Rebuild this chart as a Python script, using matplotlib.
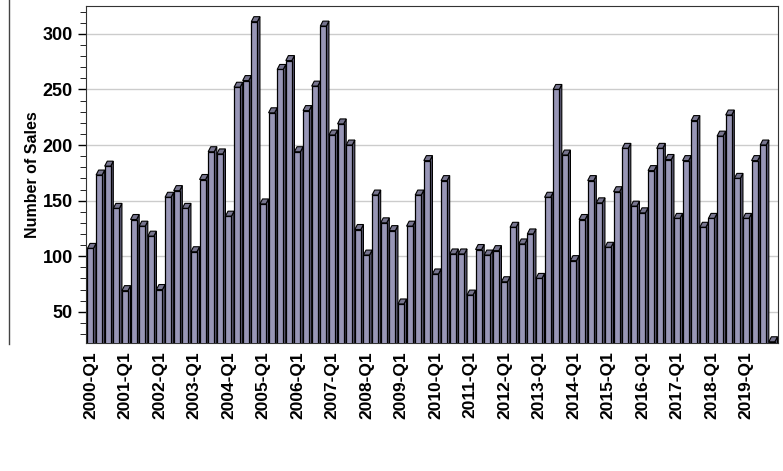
import numpy as np
import matplotlib.pyplot as plt
from matplotlib.patches import Polygon

# quarterly sales 2000-Q1 .. 2019-Q4
sales = [107, 173, 181, 143,  69, 133, 127, 118,  70, 153, 159, 143,
         104, 169, 194, 192, 136, 252, 258, 311, 147, 229, 268, 276,
         194, 231, 253, 307, 209, 219, 200, 124, 101, 155, 130, 123,
          57, 127, 155, 186,  84, 168, 102, 102,  65, 106, 101, 105,
          77, 126, 111, 120,  80, 153, 250, 191,  96, 133, 168, 148,
         108, 158, 197, 145, 139, 177, 197, 187, 134, 186, 222, 126,
         134, 208, 227, 170, 134, 186, 200,  23]
years = list(range(2000, 2020))
tick_labels = ['%d-Q1' % y for y in years]

front = '#9896b6'
side = '#5f5d78'
top = '#77758f'

plt.rcParams['font.family'] = ['Liberation Sans', 'DejaVu Sans']
fig = plt.figure(figsize=(7.83, 4.71), dpi=100)
ax = fig.add_axes([0.110, 0.272, 0.884, 0.715])
ax.set_ylim(22, 325)
ax.set_xlim(-0.5, len(sales) - 0.25)

w = 0.7
dx, dy = 0.3, 4.5
x = np.arange(len(sales))
for xi, v in zip(x, sales):
    l, r = xi - w / 2, xi + w / 2
    ax.add_patch(Polygon([(r, 0), (r + dx, dy), (r + dx, v + dy), (r, v)],
                         closed=True, fc=side, ec='black', lw=0.8, zorder=2))
    ax.add_patch(Polygon([(l, v), (l + dx, v + dy), (r + dx, v + dy), (r, v)],
                         closed=True, fc=top, ec='black', lw=0.8, zorder=2))
ax.bar(x, sales, width=w, color=front, edgecolor='black', linewidth=0.9, zorder=3)

ax.set_yticks([50, 100, 150, 200, 250, 300])
ax.set_yticks(range(30, 325, 10), minor=True)
ax.yaxis.grid(True, color='#cccccc', lw=1, zorder=0)
ax.set_axisbelow(True)
for lab in ax.get_yticklabels():
    lab.set_fontweight('bold')
ax.tick_params(axis='y', labelsize=13, length=6, width=1)
ax.tick_params(axis='y', which='minor', length=4)

ax.set_xticks(x[::4])
ax.set_xticklabels(tick_labels, rotation=90, fontsize=12.5, fontweight='bold')
ax.tick_params(axis='x', length=0, pad=6)

ax.set_ylabel('Number of Sales', fontsize=11.5, fontweight='bold', labelpad=2)
for s in ax.spines.values():
    s.set_color('#333333')

# edge of neighbouring panel on the left
fig.add_artist(plt.Line2D([0.012, 0.012], [0.27, 1.0], color='#444444', lw=1))

fig.savefig('out.png')
